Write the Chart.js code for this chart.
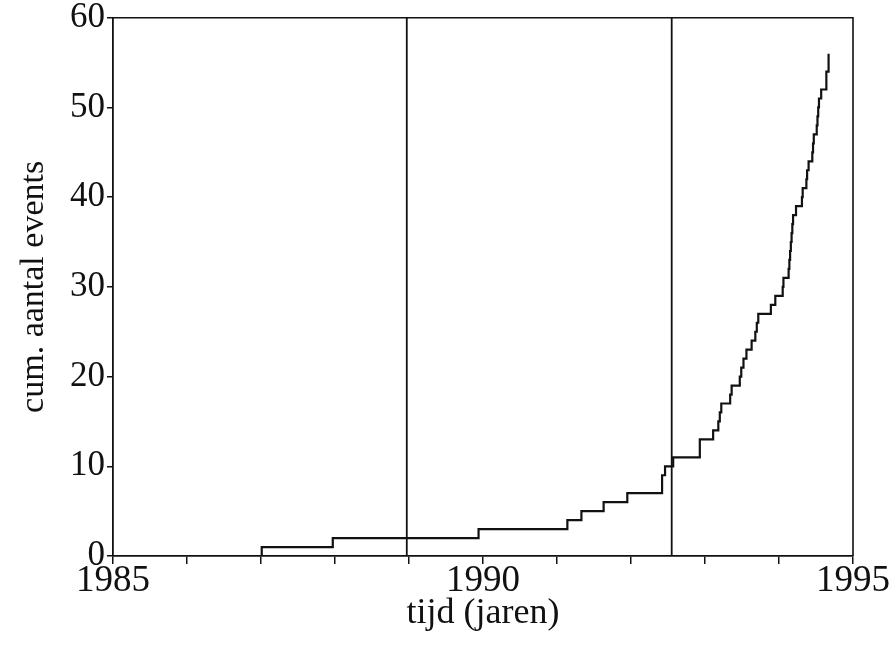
<!DOCTYPE html>
<html>
<head>
<meta charset="utf-8">
<script src="https://cdn.jsdelivr.net/npm/chart.js@4"></script>
<style>
  html, body { margin: 0; padding: 0; background: #fff; }
  #wrap { width: 895px; height: 649px; }
</style>
</head>
<body>
<div id="wrap"><canvas id="c" width="895" height="649"></canvas></div>
<script>
// Event times (years) and the cumulative count reached at each event
const eventYears = [1985.00, 1987.01, 1987.97, 1989.94, 1991.14, 1991.33, 1991.63, 1991.95,
  1992.42, 1992.42, 1992.46, 1992.57, 1992.93, 1992.93, 1993.11, 1993.18, 1993.20, 1993.22,
  1993.34, 1993.36, 1993.47, 1993.49, 1993.52, 1993.56, 1993.63, 1993.68, 1993.70, 1993.72,
  1993.89, 1993.95, 1994.05, 1994.06, 1994.13, 1994.14, 1994.15, 1994.16, 1994.17, 1994.18,
  1994.19, 1994.23, 1994.31, 1994.32, 1994.37, 1994.38, 1994.40, 1994.45, 1994.46, 1994.47,
  1994.51, 1994.52, 1994.53, 1994.54, 1994.57, 1994.64, 1994.64, 1994.67, 1994.67];
const cumEvents = [0, 1, 2, 3, 4, 5, 6, 7, 8, 9, 10, 11, 12, 13, 14, 15, 16, 17, 18, 19, 20,
  21, 22, 23, 24, 25, 26, 27, 28, 29, 30, 31, 32, 33, 34, 35, 36, 37, 38, 39, 40, 41, 42, 43,
  44, 45, 46, 47, 48, 49, 50, 51, 52, 53, 54, 55, 56];
// Vertical reference lines (years)
const markerYears = [1988.97, 1992.55];
// Axis ranges / ticks
const xRange = [1985, 1995];
const xLabelledTicks = [1985, 1990, 1995];
const yRange = [0, 60];
const yStep = 10;
const xTitle = 'tijd (jaren)';
const yTitle = 'cum. aantal events';

const FONT = "'Liberation Serif', 'DejaVu Serif', serif";

const stepData = eventYears.map((x, i) => ({ x: x, y: cumEvents[i] }));
const markerSets = markerYears.map(x => ({
  data: [{ x: x, y: yRange[0] }, { x: x, y: yRange[1] }],
  borderColor: '#111', borderWidth: 1.8, pointRadius: 0, fill: false, tension: 0
}));

const frame = {
  id: 'frame',
  afterDraw(chart) {
    const a = chart.chartArea, ctx = chart.ctx;
    ctx.save();
    ctx.strokeStyle = '#111';
    ctx.lineWidth = 1.6;
    ctx.beginPath();
    ctx.moveTo(a.left, a.top); ctx.lineTo(a.right, a.top); ctx.lineTo(a.right, a.bottom);
    ctx.stroke();
    ctx.restore();
  }
};

new Chart(document.getElementById('c'), {
  type: 'line',
  data: {
    datasets: [
      { data: stepData, stepped: 'before', borderColor: '#111', borderWidth: 2.2,
        pointRadius: 0, fill: false },
      ...markerSets
    ]
  },
  options: {
    responsive: false,
    animation: false,
    layout: { autoPadding: false, padding: { top: 17, right: 42, left: 0, bottom: 0 } },
    plugins: { legend: { display: false }, tooltip: { enabled: false } },
    scales: {
      x: {
        type: 'linear', min: xRange[0], max: xRange[1],
        afterFit(s) { s.height = 93; },
        ticks: {
          stepSize: 1, autoSkip: false, maxRotation: 0, color: '#111', padding: -5,
          font: { family: FONT, size: 37 },
          callback: v => xLabelledTicks.includes(v) ? String(v) : ''
        },
        grid: { drawOnChartArea: false, drawTicks: true, tickLength: 8, color: '#111', lineWidth: 1.5 },
        border: { display: true, color: '#111', width: 1.8 },
        title: { display: true, text: xTitle, color: '#111', font: { family: FONT, size: 36 }, padding: { top: 0, bottom: 14 } }
      },
      y: {
        type: 'linear', min: yRange[0], max: yRange[1],
        afterFit(s) { s.width = 113; },
        ticks: {
          stepSize: yStep, color: '#111', padding: 2,
          font: { family: FONT, size: 35, lineHeight: 0.9 }
        },
        grid: { drawOnChartArea: false, drawTicks: true, tickLength: 6, color: '#111', lineWidth: 1.5 },
        border: { display: true, color: '#111', width: 1.8 },
        title: { display: true, text: yTitle, color: '#111', font: { family: FONT, size: 34 }, padding: { top: 14, bottom: 0 } }
      }
    }
  },
  plugins: [frame]
});
</script>
</body>
</html>
